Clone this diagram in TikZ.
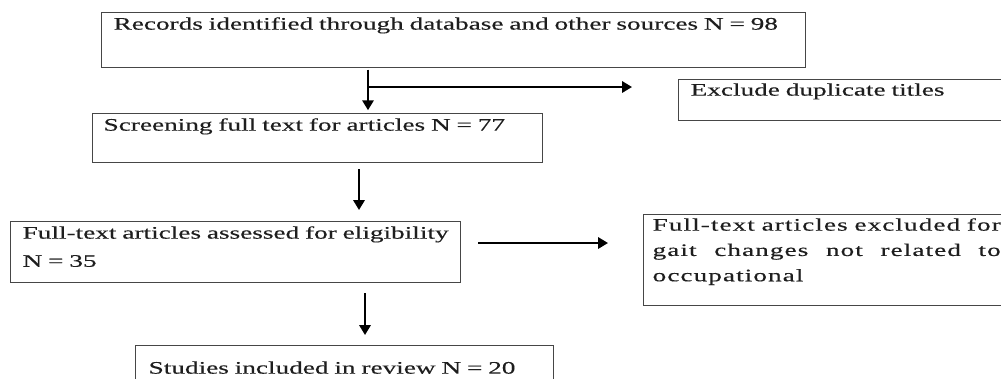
\documentclass[tikz,border=0pt]{standalone}
\usepackage{fontspec}
\setmainfont{Liberation Serif}[FakeStretch=1.55,FakeBold=0.35]
\usetikzlibrary{arrows.meta,positioning}
\definecolor{boxgray}{RGB}{70,70,70}
\definecolor{txtgray}{RGB}{30,30,30}
\tikzset{
  stagebox/.style={draw=boxgray, line width=0.9pt, anchor=north west, align=left,
    inner ysep=0pt, inner xsep=0.3cm, text=txtgray, font=\fontsize{12.5}{20}\selectfont},
  flowarrow/.style={line width=1.5pt, -{Triangle[length=7pt,width=8pt]}},
}

\begin{document}
\begin{tikzpicture}[x=0.025cm,y=-0.025cm]
  \clip (0,0) rectangle (1001,378);
  % main column
  \node[stagebox, text width=17cm, text height=0.425cm, text depth=0.95cm] (rec) at (101,12)
    {Records identified through database and other sources N = 98};
  \node[stagebox, inner xsep=0.275cm, text width=10.7cm, text height=0.425cm, text depth=0.8cm] (scr) at (92,113)
    {Screening full text for articles N = 77};
  \node[stagebox, text width=10.65cm, text height=0.425cm, text depth=1.1cm] (ass) at (10,221)
    {\mbox{Full-text articles assessed for eligibility}\\N = 35};
  \node[stagebox, inner xsep=0.325cm, text width=9.8cm, text height=0.7cm, text depth=1cm] (stu) at (135,345)
    {Studies included in review N = 20};
  % exclusions
  \node[stagebox, text width=10cm, text height=0.4cm, text depth=0.625cm] (dup) at (678,79)
    {Exclude duplicate titles};
  \node[stagebox, inner xsep=0.225cm, align=justify, text width=8.7cm, text height=0.4cm, text depth=1.875cm,
    font=\fontsize{12.5}{18}\selectfont\addfontfeature{LetterSpace=6}] (exc) at (643,214)
    {Full-text articles excluded for\linebreak gait changes not related to\linebreak occupational};
  % connectors
  \coordinate (split) at (368,87);
  \coordinate (c2) at (359,190);
  \coordinate (c3) at (470,243);
  \coordinate (c4) at (365,310);
  \draw[flowarrow, shorten <=1pt, shorten >=2pt] (split |- rec.south) -- (split |- scr.north);
  \draw[flowarrow, shorten >=1.15cm] (split) -- (split -| dup.west);
  \draw[flowarrow, shorten <=0.15cm, shorten >=0.275cm] (c2 |- scr.south) -- (c2 |- ass.north);
  \draw[flowarrow, shorten <=0.425cm, shorten >=0.875cm] (c3 -| ass.east) -- (c3 -| exc.west);
  \draw[flowarrow, shorten <=0.25cm, shorten >=0.25cm] (c4 |- ass.south) -- (c4 |- stu.north);
\end{tikzpicture}
\end{document}
